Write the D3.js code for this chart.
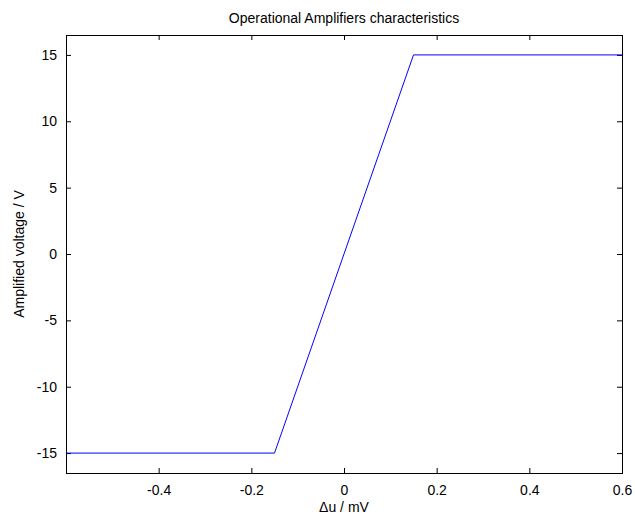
<!DOCTYPE html>
<html>
<head>
<meta charset="utf-8">
<script src="https://cdn.jsdelivr.net/npm/d3@7"></script>
<style>
  body { margin: 0; background: #fff; }
  text { font-family: "Liberation Sans", Arial, sans-serif; fill: #000; }
</style>
</head>
<body>
<script>
// data: input difference (mV) and output voltage (V)
var inputValues = [-0.6, -0.15, 0.15, 0.6];
var outputValues = [-15, -15, 15, 15];
var xTicks = [-0.4, -0.2, 0, 0.2, 0.4, 0.6];
var yTicks = [-15, -10, -5, 0, 5, 10, 15];

var width = 635, height = 517;
var plotLeft = 66, plotRight = 622, plotTop = 35, plotBottom = 473;

var svg = d3.select("body").append("svg")
    .attr("width", width)
    .attr("height", height);

var xScale = d3.scaleLinear().domain([-0.6, 0.6]).range([plotLeft, plotRight]);
var yScale = d3.scaleLinear().domain([-16.5, 16.5]).range([plotBottom, plotTop]);

// plain minus sign like matlab
var fmt = function(d) { return String(d); };

// axes with inward ticks, mirrored on top and right like the matlab box
var xAxis = d3.axisBottom(xScale).tickValues(xTicks).tickSizeInner(-5).tickSizeOuter(0)
    .tickPadding(12).tickFormat(fmt);
var xTop = d3.axisTop(xScale).tickValues(xTicks).tickSizeInner(-5).tickSizeOuter(0)
    .tickFormat("");
var yAxis = d3.axisLeft(yScale).tickValues(yTicks).tickSizeInner(-5).tickSizeOuter(0)
    .tickPadding(9).tickFormat(fmt);
var yRight = d3.axisRight(yScale).tickValues(yTicks).tickSizeInner(-5).tickSizeOuter(0)
    .tickFormat("");

svg.append("g").attr("transform", "translate(0," + plotBottom + ")").call(xAxis);
svg.append("g").attr("transform", "translate(0," + plotTop + ")").call(xTop);
svg.append("g").attr("transform", "translate(" + plotLeft + ",0)").call(yAxis);
svg.append("g").attr("transform", "translate(" + plotRight + ",0)").call(yRight);

svg.selectAll(".domain").remove();
svg.selectAll(".tick line").attr("stroke", "#000");
svg.selectAll(".tick text")
   .style("font-size", "14px")
   .style("font-family", "Liberation Sans, Arial, sans-serif")
   .attr("fill", "#000");

// box around the plot
svg.append("rect")
   .attr("x", plotLeft + 0.5).attr("y", plotTop + 0.5)
   .attr("width", plotRight - plotLeft).attr("height", plotBottom - plotTop)
   .attr("fill", "none").attr("stroke", "#000");

// the characteristic line
var points = inputValues.map(function(d, i) { return [d, outputValues[i]]; });
var line = d3.line()
    .x(function(d) { return xScale(d[0]); })
    .y(function(d) { return yScale(d[1]); });

svg.append("path")
   .datum(points)
   .attr("d", line)
   .attr("fill", "none")
   .attr("stroke", "#0000ff")
   .attr("stroke-width", 1);

// title and axis labels
svg.append("text")
   .attr("x", (plotLeft + plotRight) / 2).attr("y", 23)
   .attr("text-anchor", "middle")
   .style("font-size", "14px")
   .text("Operational Amplifiers characteristics");

svg.append("text")
   .attr("x", (plotLeft + plotRight) / 2).attr("y", 512)
   .attr("text-anchor", "middle")
   .style("font-size", "14px")
   .text("Δu / mV");

svg.append("text")
   .attr("transform", "translate(24," + ((plotTop + plotBottom) / 2) + ")rotate(-90)")
   .attr("text-anchor", "middle")
   .style("font-size", "14px")
   .text("Amplified voltage / V");
</script>
</body>
</html>
